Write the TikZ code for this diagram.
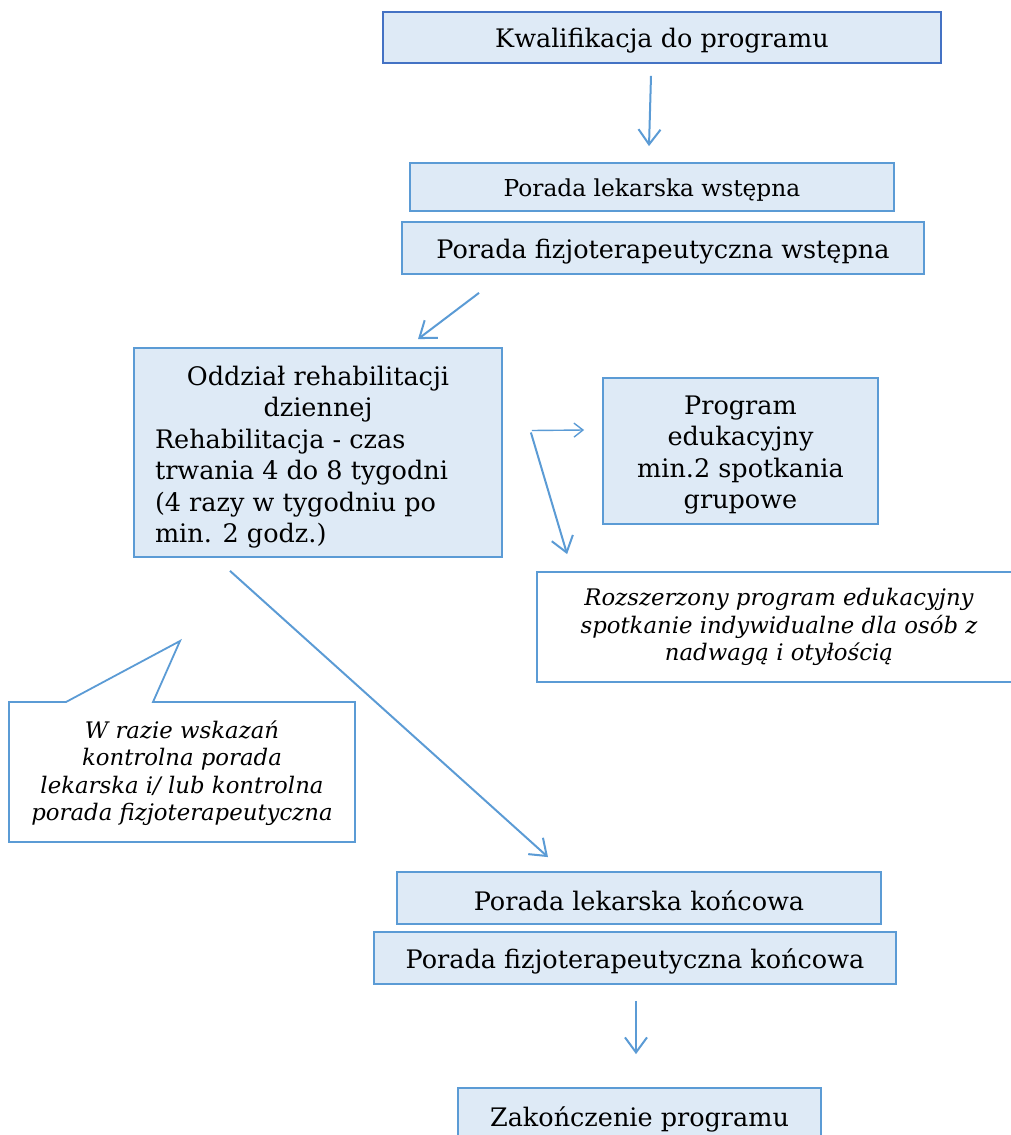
\documentclass[tikz,border=0pt]{standalone}
\usepackage{fontspec}
\setmainfont{DejaVu Serif}
\usetikzlibrary{arrows.meta}
\definecolor{bfill}{HTML}{DEEAF6}
\definecolor{bline}{HTML}{5B9BD5}
\definecolor{bline2}{HTML}{4472C4}
\begin{document}
\begin{tikzpicture}[x=1pt,y=-1pt,
  box/.style={draw=bline, fill=bfill, line width=1.8pt, inner sep=0pt},
  txt/.style={inner sep=0pt, align=center, font=\fontsize{25.5}{31.5}\selectfont},
  wbox/.style={draw=bline, fill=white, line width=1.8pt, inner sep=0pt, align=center,
    font=\fontsize{22.8}{27.5}\selectfont\itshape},
  arr/.style={draw=bline, line width=2pt, -{Straight Barb[length=15pt,width=22pt,line width=2pt]}},
  sarr/.style={draw=bline, line width=1.4pt, -{Straight Barb[length=9pt,width=14pt,line width=1.4pt]}}
]
\useasboundingbox (0,0) rectangle (1011,1135);
\node[box, draw=bline2, minimum width=558, minimum height=51] (k) at (662,37.5) {};
\node[txt, yshift=-3.5pt] (kt) at (k) {Kwalifikacja do programu};
\node[box, minimum width=484, minimum height=48] (plw) at (652,187) {};
\node[txt, yshift=-3pt, font=\fontsize{23.3}{28}\selectfont] (plwt) at (plw) {Porada lekarska wstępna};
\node[box, minimum width=522, minimum height=52] (pfw) at (663,248) {};
\node[txt, yshift=-3.5pt] (pfwt) at (pfw) {Porada fizjoterapeutyczna wstępna};
\node[box, minimum width=368, minimum height=209] (odd) at (318,452.5) {};
\node[txt, yshift=-4.5pt, text width=326, align=none] (oddt) at (odd)
  {{\centering Oddział rehabilitacji\\ dziennej\par}
   {\raggedright Rehabilitacja - czas\\ trwania 4 do 8 tygodni\\ (4 razy w tygodniu po\\ min. 2 godz.)\par}};
\node[box, minimum width=275, minimum height=146] (prog) at (740.5,451) {};
\node[txt, yshift=-4pt] (progt) at (prog) {Program\\ edukacyjny\\ min.2 spotkania\\ grupowe};
\node[wbox, minimum width=484, minimum height=110] (roz) at (779,627)
  {Rozszerzony program edukacyjny\\ spotkanie indywidualne dla osób z\\ nadwagą i otyłością};
\draw[draw=bline, fill=white, line width=1.8pt] (9,702) -- (66,702) -- (180,641) -- (153,702) -- (355,702) -- (355,842) -- (9,842) -- cycle;
\node[font=\fontsize{22.8}{27.5}\selectfont\itshape, align=center, inner sep=0pt] (call) at (182,773)
  {W razie wskazań\\ kontrolna porada\\ lekarska i/ lub kontrolna\\ porada fizjoterapeutyczna};
\node[box, minimum width=484, minimum height=52] (plk) at (639,898) {};
\node[txt, yshift=-3pt] (plkt) at (plk) {Porada lekarska końcowa};
\node[box, minimum width=522, minimum height=52] (pfk) at (635,958) {};
\node[txt, yshift=-3pt] (pfkt) at (pfk) {Porada fizjoterapeutyczna końcowa};
\node[box, minimum width=363, minimum height=52] (zak) at (639.5,1114) {};
\node[txt, yshift=-5pt] (zakt) at (zak) {Zakończenie programu};

\draw[arr] ([xshift=-11pt,yshift=-12pt]k.south) -- ([xshift=-3pt,yshift=16pt]plw.north);
\draw[arr] ([xshift=-184pt,yshift=-18pt]pfw.south) -- ([xshift=100pt,yshift=8pt]odd.north);
\draw[sarr] ([xshift=29pt,yshift=22pt]odd.east) -- ([xshift=-18pt,yshift=21pt]prog.west);
\draw[arr] ([xshift=28pt,yshift=20pt]odd.east) -- ([xshift=31pt,yshift=17pt]roz.north west);
\draw[arr] ([xshift=-88pt,yshift=-13pt]odd.south) -- ([xshift=-91pt,yshift=14pt]plk.north);
\draw[arr] ([xshift=1pt,yshift=-16pt]pfk.south) -- ([xshift=-3.5pt,yshift=33pt]zak.north);
\end{tikzpicture}
\end{document}
